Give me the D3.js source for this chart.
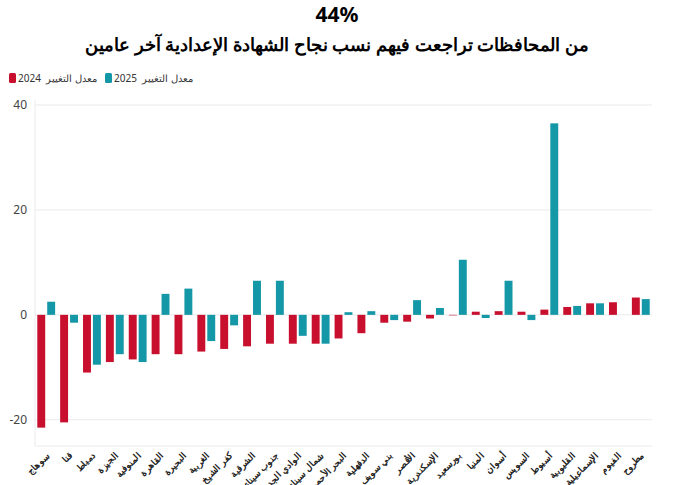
<!DOCTYPE html>
<html><head><meta charset="utf-8">
<script src="https://cdn.jsdelivr.net/npm/d3@7"></script>
<style>body{margin:0;background:#fff;font-family:"Noto Sans",sans-serif}</style>
</head><body><svg id="c" width="674" height="485"></svg>
<script>
const categories=["سوهاج","قنا","دمياط","الجيزة","المنوفية","القاهرة","البحيرة","الغربية","كفر الشيخ","الشرقية","جنوب سيناء","الوادي الجديد","شمال سيناء","البحر الأحمر","الدقهلية","بني سويف","الأقصر","الإسكندرية","بورسعيد","المنيا","أسوان","السويس","أسيوط","القليوبية","الإسماعيلية","الفيوم","مطروح"];
const values2024=[-21.5,-20.5,-11,-9,-8.5,-7.5,-7.5,-7,-6.5,-6,-5.5,-5.5,-5.5,-4.5,-3.5,-1.5,-1.3,-0.7,-0.1,0.6,0.7,0.6,1,1.5,2.2,2.4,3.3];
const values2025=[2.5,-1.5,-9.5,-7.5,-9,4,5,-5,-2,6.5,6.5,-4,-5.5,0.5,0.7,-1,2.8,1.3,10.5,-0.6,6.5,-1,36.5,1.7,2.2,0,3];
const yTicks=[-20,0,20,40];
const svg=d3.select("#c");
const L=35,R=652,T=105,B=446;
const x=d3.scaleBand().domain(categories).range([L,R]).paddingInner(0.22).paddingOuter(0.1);
const y=d3.scaleLinear().domain([-25,40]).range([B,T]);
const red="#c8102e",teal="#1497a6";
svg.append("text").attr("x",337).attr("y",22).attr("text-anchor","middle").attr("font-size",21).attr("font-weight","bold").text("44%");
svg.append("text").attr("x",337).attr("y",51).attr("text-anchor","middle").attr("font-size",18).attr("font-weight","bold").attr("direction","rtl").text("من المحافظات تراجعت فيهم نسب نجاح الشهادة الإعدادية آخر عامين");
const lg=svg.append("g").attr("font-size",10).attr("fill","#333");
[[red,"2024",9],[teal,"2025",105]].forEach(([c,yr,lx])=>{
  lg.append("rect").attr("x",lx).attr("y",73).attr("width",7).attr("height",10).attr("rx",1.5).attr("fill",c);
  lg.append("text").attr("x",lx+9).attr("y",82).text(yr);
  lg.append("text").attr("x",lx+37).attr("y",82).text("معدل التغيير");
});
svg.append("g").selectAll("line").data(yTicks).join("line").attr("x1",L).attr("x2",R).attr("y1",d=>y(d)).attr("y2",d=>y(d)).attr("stroke","#eaeaea");
svg.append("line").attr("x1",L).attr("x2",R).attr("y1",B).attr("y2",B).attr("stroke","#eaeaea");
svg.append("line").attr("x1",L).attr("x2",L).attr("y1",T-5).attr("y2",B).attr("stroke","#eaeaea");
svg.append("g").selectAll("text").data(yTicks).join("text").attr("x",27).attr("y",d=>y(d)+4).attr("text-anchor","end").attr("font-size",12).attr("fill","#444").text(d=>d);
const bw=x.bandwidth()/2-1;
svg.append("g").selectAll("rect").data(categories).join("rect").attr("x",d=>x(d)).attr("width",bw).attr("y",(d,i)=>y(Math.max(0,values2024[i]))).attr("height",(d,i)=>Math.abs(y(values2024[i])-y(0))).attr("fill",red);
svg.append("g").selectAll("rect").data(categories).join("rect").attr("x",d=>x(d)+bw+2).attr("width",bw).attr("y",(d,i)=>y(Math.max(0,values2025[i]))).attr("height",(d,i)=>Math.abs(y(values2025[i])-y(0))).attr("fill",teal);
svg.append("g").selectAll("text").data(categories).join("text").attr("font-size",9).attr("font-weight","bold").attr("fill","#222").attr("text-anchor","end")
 .attr("transform",d=>`translate(${x(d)+x.bandwidth()/2+4},${B+10}) rotate(-45)`).text(d=>d);
</script></body></html>
